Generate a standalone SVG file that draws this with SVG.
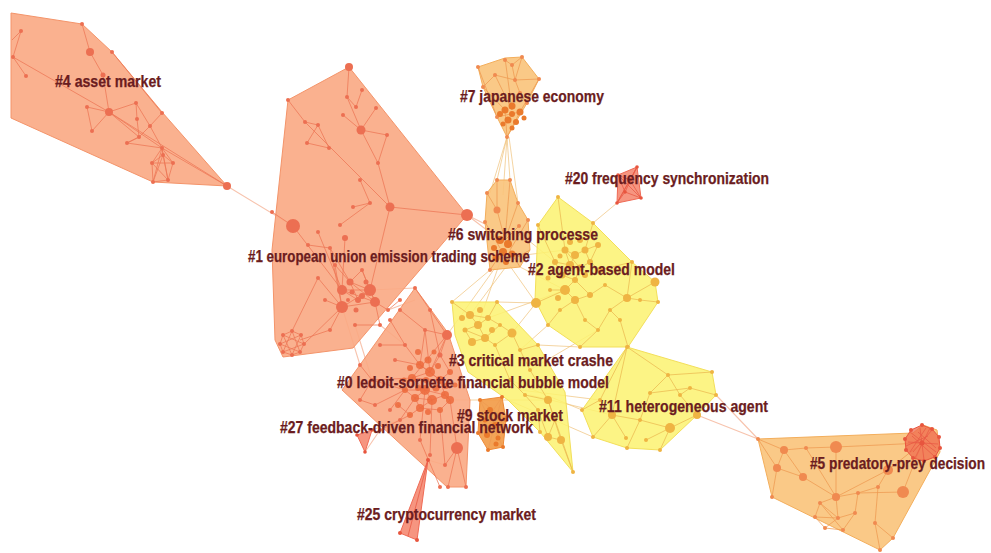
<svg xmlns="http://www.w3.org/2000/svg" width="991" height="553" viewBox="0 0 991 553">
  <style>
    .hull-o { fill: #f9a983; fill-opacity: 0.9; stroke: #f4946a; stroke-width: 1; }
    .hull-y { fill: #fbf270; fill-opacity: 0.85; stroke: #f3df5a; stroke-width: 1; }
    .hull-a { fill: #f9c37a; fill-opacity: 0.9; stroke: #f3ae5c; stroke-width: 1; }
    .hull-r { fill: #f58a72; fill-opacity: 0.9; stroke: #ef6a55; stroke-width: 1; }
    .hull-d { fill: #f29a45; fill-opacity: 0.9; stroke: #ee8a38; stroke-width: 1; }
    .blob { fill: #ef6a4c; fill-opacity: 0.75; stroke: #e8553e; stroke-width: 1; }
    .e-o { fill: none; stroke: #ec7656; stroke-width: 0.9; stroke-opacity: 0.85; }
    .e-y { fill: none; stroke: #eab64e; stroke-width: 0.9; stroke-opacity: 0.8; }
    .e-a { fill: none; stroke: #ee9a52; stroke-width: 0.9; stroke-opacity: 0.85; }
    .e-r { fill: none; stroke: #e95a45; stroke-width: 0.8; }
    .link { fill: none; stroke: #f3a98a; stroke-width: 1.1; stroke-opacity: 0.7; }
    .link-y { fill: none; stroke: #f0c27a; stroke-width: 1; stroke-opacity: 0.7; }
    .n-o circle { fill: #ec6f52; }
    .n-y circle { fill: #efb443; }
    .n-a circle { fill: #f08a50; }
    .n-r circle { fill: #e8553e; }
    .n-d circle { fill: #ea7a2c; }
    .n-dd circle { fill: #ec6a3c; fill-opacity: 0.85; }
    .lbl text { font-family: "Liberation Sans", Arial, sans-serif; font-weight: bold; font-size: 16.5px; fill: #6b1c20; stroke: #6b1c20; stroke-width: 0.25; }
  </style>

  <!-- inter-cluster links -->
  <g id="connectors">
    <path class="link" d="M227,186 L293,226 M467,215 L487,225 M467,215 L500,240 M370,290 L415,288 M388,310 L415,300 M380,325 L405,345 M355,325 L372,380 M342,307 L360,365"/>
    <path class="link-y" d="M507,137 L497,180 M507,137 L510,180 M507,137 L490,193 M507,137 L503,195 M509,137 L518,203"/>
    <path class="link-y" d="M490,270 L452,302 M495,268 L447,335 M505,268 L470,315 M510,266 L536,303 M520,267 L565,290 M500,262 L478,325 M525,255 L565,250 M528,240 L555,262"/>
    <path class="link-y" d="M617,203 L593,223 M536,303 L497,302 M536,303 L512,333 M548,325 L520,350 M565,290 L488,318 M580,347 L538,345 M598,330 L530,370"/>
    <path class="link-y" d="M510,380 L582,410 M520,390 L600,400 M530,395 L612,415 M508,400 L593,437 M450,400 L548,400"/>
    <path class="link" d="M697,415 L758,439 M716,395 L758,439"/>
    <path class="link" d="M428,460 L420,440 M428,460 L445,465 M365,452 L380,430 M372,430 L400,420"/>
  </g>

  <!-- cluster 4 -->
  <g id="cluster-4">
    <polygon class="hull-o" points="11,13 82,24 112,52 162,112 227,186 153,182 11,118"/>
    <path class="e-o" d="M13,57 L109,112 M21,31 L13,57 L26,76 M12,40 L21,31 M82,24 L90,52 L103,75 L109,112 M112,52 L162,113 M109,112 L136,103 L150,126 L162,113 M109,112 L139,137 M109,112 L162,148 M87,107 L92,131 L109,112 M87,107 L109,112 M127,143 L162,148 M137,119 L139,137 L127,143 M136,103 L137,119 M150,126 L162,148 M162,148 L152,163 M162,148 L163,155 M162,148 L173,163 M162,148 L168,180 M162,148 L153,182 M152,163 L163,155 L173,163 L168,180 L153,182 Z M152,163 L173,163 M152,163 L168,180 M163,155 L153,182 M163,155 L168,180 M162,148 L227,186 M109,112 L227,186 M127,143 L139,137 L150,126"/>
    <g class="n-o">
      <circle cx="21" cy="31" r="2"/><circle cx="13" cy="57" r="2"/><circle cx="26" cy="76" r="2"/>
      <circle cx="82" cy="24" r="2"/><circle cx="90" cy="52" r="4"/><circle cx="112" cy="52" r="2"/>
      <circle cx="103" cy="75" r="2.5"/><circle cx="109" cy="112" r="4"/><circle cx="87" cy="107" r="2"/>
      <circle cx="92" cy="131" r="2"/><circle cx="127" cy="143" r="2"/><circle cx="136" cy="103" r="2"/>
      <circle cx="137" cy="119" r="2"/><circle cx="139" cy="137" r="2"/><circle cx="150" cy="126" r="2"/>
      <circle cx="162" cy="113" r="2"/><circle cx="162" cy="148" r="2"/><circle cx="152" cy="163" r="2"/>
      <circle cx="163" cy="155" r="2"/><circle cx="173" cy="163" r="2"/><circle cx="168" cy="180" r="2"/>
      <circle cx="153" cy="182" r="2"/><circle cx="227" cy="186" r="4"/>
    </g>
  </g>

  <!-- cluster 1 -->
  <g id="cluster-1">
    <polygon class="hull-o" points="288,100 349,67 467,215 353,348 283,357 275,340 272,250"/>
    <path class="e-o" d="M349,67 L347,97 L361,130 L378,163 L390,207 M362,90 L356,107 L347,97 M343,115 L361,130 M376,108 L361,130 L387,135 M288,100 L305,122 M305,122 L318,125 L307,143 M307,143 L329,148 L318,125 M305,122 L390,207 M390,207 L467,215 M360,180 L370,203 L353,207 M390,207 L370,290 M370,203 L340,225 M293,226 L342,290 M293,226 L272,212 M318,232 L342,290 L370,290 M308,245 L330,248 L350,282 M345,238 L342,290 M330,248 L342,307 M342,307 L370,290 L375,302 L342,307 M350,282 L375,302 M325,300 L342,307 L318,278 M362,270 L370,290 M335,265 L350,282 M375,302 L388,310 L400,300 M375,302 L380,325 L355,325 M342,307 L330,330 L300,340 M342,307 L304,344 M350,282 L370,290 M358,300 L370,290 M362,270 L375,302 M318,278 L292,331 M387,135 L378,163 M350,282 L358,300 L342,290 M342,290 L375,302 M335,265 L342,307 M362,270 L350,282"/>
    <path class="e-o" d="M292,331 L301,335 L304,344 L300,352 L292,355 L283,352 L280,344 L283,335 Z M292,331 L300,352 M292,331 L283,352 M301,335 L292,355 M301,335 L280,344 M304,344 L283,335 M304,344 L283,352 M300,352 L280,344 M292,355 L283,335"/>
    <g class="n-o">
      <circle cx="349" cy="67" r="4"/><circle cx="288" cy="100" r="2"/><circle cx="305" cy="122" r="2"/>
      <circle cx="318" cy="125" r="2"/><circle cx="307" cy="143" r="2"/><circle cx="329" cy="148" r="2"/>
      <circle cx="347" cy="97" r="2"/><circle cx="343" cy="115" r="2"/><circle cx="362" cy="90" r="2"/>
      <circle cx="356" cy="107" r="2"/><circle cx="361" cy="130" r="4.5"/><circle cx="376" cy="108" r="2"/>
      <circle cx="387" cy="135" r="2"/><circle cx="378" cy="163" r="2"/><circle cx="360" cy="180" r="2"/>
      <circle cx="370" cy="203" r="2"/><circle cx="390" cy="207" r="4.5"/><circle cx="353" cy="207" r="2"/>
      <circle cx="340" cy="225" r="2"/><circle cx="293" cy="226" r="7"/><circle cx="272" cy="212" r="2"/>
      <circle cx="467" cy="215" r="6"/><circle cx="318" cy="232" r="2"/><circle cx="308" cy="245" r="2"/>
      <circle cx="330" cy="248" r="2"/><circle cx="345" cy="238" r="3"/><circle cx="350" cy="282" r="3.5"/>
      <circle cx="342" cy="290" r="5"/><circle cx="370" cy="290" r="6"/><circle cx="375" cy="302" r="5"/>
      <circle cx="342" cy="307" r="6"/><circle cx="358" cy="300" r="3"/><circle cx="325" cy="300" r="2"/>
      <circle cx="318" cy="278" r="2"/><circle cx="362" cy="270" r="2"/><circle cx="335" cy="265" r="2"/>
      <circle cx="388" cy="310" r="2"/><circle cx="400" cy="300" r="2"/><circle cx="380" cy="325" r="2"/>
      <circle cx="355" cy="325" r="2"/><circle cx="330" cy="330" r="2"/>
      <circle cx="352" cy="292" r="2.5"/><circle cx="362" cy="296" r="3"/><circle cx="356" cy="310" r="2.5"/>
      <circle cx="366" cy="282" r="2.5"/><circle cx="348" cy="300" r="2"/>
      <circle cx="292" cy="331" r="2"/><circle cx="301" cy="335" r="2"/><circle cx="304" cy="344" r="2"/>
      <circle cx="300" cy="352" r="2"/><circle cx="292" cy="355" r="2"/><circle cx="283" cy="352" r="2"/>
      <circle cx="280" cy="344" r="2"/><circle cx="283" cy="335" r="2"/>
    </g>
  </g>

  <!-- cluster 0 -->
  <g id="cluster-0">
    <polygon class="hull-o" points="415,288 448,333 470,400 466,487 447,487 342,390"/>
    <path class="e-o" d="M415,288 L430,310 L447,335 M400,310 L425,330 L447,335 M390,320 L405,345 L420,365 M380,345 L405,345 M425,330 L430,372 M440,355 L430,372 M447,335 L440,355 L450,372 M360,365 L372,380 L412,378 M395,360 L420,365 M372,380 L405,390 M420,365 L430,372 L412,378 L425,390 L432,400 L445,395 L440,380 L430,372 M425,390 L415,398 L420,408 L432,400 M440,380 L450,372 M445,395 L450,400 L440,410 M398,405 L410,415 L420,408 M405,390 L415,398 M400,420 L415,398 M390,410 L405,390 M380,430 L410,415 M420,440 L425,390 M430,455 L432,400 M445,465 L440,410 M440,487 L420,440 M448,487 L457,448 L450,400 M466,487 L457,448 M360,400 L372,380 M375,405 L405,390 M360,400 L375,405 M447,335 L412,378 M430,310 L440,355 M457,448 L445,465 M420,365 L440,380 M412,378 L440,380 M425,390 L445,395 M415,398 L432,400 M420,408 L440,410 M405,390 L425,390 M412,378 L405,390 M425,330 L420,365 M447,335 L430,372"/>
    <g class="n-o">
      <circle cx="415" cy="288" r="2"/><circle cx="447" cy="335" r="5"/><circle cx="430" cy="310" r="2"/>
      <circle cx="400" cy="310" r="2"/><circle cx="390" cy="320" r="2"/><circle cx="380" cy="345" r="2"/>
      <circle cx="425" cy="330" r="2"/><circle cx="405" cy="345" r="2"/><circle cx="440" cy="355" r="2.5"/>
      <circle cx="360" cy="365" r="2"/><circle cx="372" cy="380" r="2"/><circle cx="395" cy="360" r="2"/>
      <circle cx="457" cy="448" r="6"/><circle cx="400" cy="420" r="2"/><circle cx="390" cy="410" r="2"/>
      <circle cx="380" cy="430" r="2"/><circle cx="420" cy="440" r="2"/><circle cx="430" cy="455" r="2"/>
      <circle cx="445" cy="465" r="2"/><circle cx="440" cy="487" r="2"/><circle cx="448" cy="487" r="2"/>
      <circle cx="466" cy="487" r="2"/><circle cx="360" cy="400" r="2"/><circle cx="375" cy="405" r="2"/>
    </g>
    <g class="n-dd">
      <circle cx="420" cy="365" r="4"/><circle cx="430" cy="372" r="5"/><circle cx="412" cy="378" r="4"/>
      <circle cx="440" cy="380" r="4"/><circle cx="425" cy="390" r="5"/><circle cx="415" cy="398" r="4"/>
      <circle cx="432" cy="400" r="5"/><circle cx="445" cy="395" r="4"/><circle cx="405" cy="390" r="3"/>
      <circle cx="420" cy="408" r="4"/><circle cx="440" cy="410" r="3"/><circle cx="450" cy="372" r="3"/>
      <circle cx="398" cy="405" r="3"/><circle cx="410" cy="415" r="3"/><circle cx="450" cy="400" r="4"/>
      <circle cx="428" cy="360" r="3.5"/><circle cx="438" cy="366" r="3"/><circle cx="418" cy="388" r="3"/>
      <circle cx="436" cy="388" r="3.5"/><circle cx="426" cy="380" r="3"/><circle cx="446" cy="386" r="3"/>
      <circle cx="410" cy="368" r="3"/><circle cx="428" cy="412" r="3"/><circle cx="404" cy="380" r="2.5"/>
      <circle cx="455" cy="385" r="2.5"/><circle cx="418" cy="352" r="3"/><circle cx="434" cy="352" r="2.5"/>
    </g>
  </g>

  <!-- cluster 27 -->
  <g id="cluster-27">
    <polygon class="hull-r" points="357,435 372,430 365,452"/>
    <g class="n-r"><circle cx="357" cy="435" r="1.8"/><circle cx="372" cy="430" r="1.8"/><circle cx="365" cy="452" r="1.8"/></g>
  </g>

  <!-- cluster 25 -->
  <g id="cluster-25">
    <polygon class="hull-r" points="428,460 400,533 417,540"/>
    <path class="e-r" d="M428,460 L408,536"/>
    <g class="n-r"><circle cx="428" cy="460" r="2"/><circle cx="400" cy="533" r="2"/><circle cx="417" cy="540" r="2"/></g>
  </g>

  <!-- cluster 3 -->
  <g id="cluster-3">
    <polygon class="hull-y" points="452,302 497,302 538,345 565,392 573,472 540,432 508,400 468,372 455,335"/>
    <path class="e-y" d="M452,302 L470,315 L478,325 L465,330 L472,342 L485,338 L478,325 L488,318 L497,302 M470,315 L488,318 L500,325 L512,333 L495,345 L485,338 M512,333 L520,350 L538,345 M495,345 L510,380 L525,395 L548,400 L555,420 L548,437 L561,440 L573,472 M538,410 L548,437 M525,395 L538,410 L540,432 M530,370 L548,400 M520,350 L530,370 M548,400 L561,440 M555,420 L573,472 M465,330 L485,338 M500,325 L485,338"/>
    <g class="n-y">
      <circle cx="452" cy="302" r="2"/><circle cx="497" cy="302" r="2"/><circle cx="470" cy="315" r="4"/>
      <circle cx="478" cy="325" r="4"/><circle cx="465" cy="330" r="2.5"/><circle cx="488" cy="318" r="3"/>
      <circle cx="485" cy="338" r="4"/><circle cx="472" cy="342" r="4"/><circle cx="500" cy="325" r="2"/>
      <circle cx="512" cy="333" r="4.5"/><circle cx="495" cy="345" r="2"/><circle cx="520" cy="350" r="2"/>
      <circle cx="538" cy="345" r="2"/><circle cx="548" cy="400" r="4"/><circle cx="548" cy="437" r="4"/>
      <circle cx="561" cy="440" r="4"/><circle cx="538" cy="410" r="2"/><circle cx="555" cy="420" r="2"/>
      <circle cx="525" cy="395" r="2"/><circle cx="573" cy="472" r="2"/><circle cx="540" cy="432" r="2"/>
      <circle cx="510" cy="380" r="2"/><circle cx="530" cy="370" r="2"/>
      <circle cx="462" cy="318" r="3"/><circle cx="480" cy="310" r="3"/><circle cx="492" cy="330" r="3"/>
    </g>
  </g>

  <!-- cluster 9 -->
  <g id="cluster-9">
    <polygon class="hull-d" points="480,400 502,397 506,420 503,447 488,450 478,433"/>
    <path class="e-a" d="M480,400 L503,447 M502,397 L488,450 M478,433 L506,420 M480,400 L506,420 M502,397 L478,433"/>
    <g class="n-d">
      <circle cx="480" cy="400" r="2"/><circle cx="502" cy="397" r="2"/><circle cx="506" cy="420" r="2"/>
      <circle cx="503" cy="447" r="2"/><circle cx="488" cy="450" r="2"/><circle cx="478" cy="433" r="2"/>
      <circle cx="490" cy="410" r="3"/><circle cx="495" cy="425" r="3"/><circle cx="487" cy="435" r="3"/>
      <circle cx="498" cy="438" r="2.5"/><circle cx="485" cy="420" r="2.5"/><circle cx="496" cy="444" r="2.5"/>
    </g>
  </g>

  <!-- cluster 2 -->
  <g id="cluster-2">
    <polygon class="hull-y" points="558,197 593,223 632,262 655,282 658,302 628,347 580,347 548,325 535,300 538,225"/>
    <path class="e-y" d="M558,197 L565,250 M593,223 L585,250 M538,225 L555,262 M565,250 L575,255 L585,250 L590,262 L580,268 L570,265 L565,250 M570,265 L562,275 L575,280 L580,268 M555,262 L570,265 M598,245 L590,262 L600,270 M575,280 L565,290 L575,300 L590,295 L575,280 M536,303 L565,290 M627,298 L655,282 M632,262 L627,298 L610,310 L598,330 L580,347 M620,320 L628,347 M640,300 L627,298 M605,285 L590,295 M550,290 L565,290 M560,310 L575,300 L585,320 L598,330 M548,325 L560,310 M605,285 L627,298 M600,270 L632,262 M658,302 L640,300 M620,320 L610,310 M585,250 L598,245 M565,250 L580,268 M575,255 L570,265 M555,262 L562,275"/>
    <g class="n-y">
      <circle cx="558" cy="197" r="2"/><circle cx="593" cy="223" r="2"/><circle cx="632" cy="262" r="2"/>
      <circle cx="655" cy="282" r="4.5"/><circle cx="658" cy="302" r="2"/><circle cx="628" cy="347" r="2"/>
      <circle cx="580" cy="347" r="2"/><circle cx="548" cy="325" r="2"/><circle cx="536" cy="303" r="5"/>
      <circle cx="538" cy="225" r="2"/><circle cx="565" cy="250" r="3.5"/><circle cx="575" cy="255" r="4"/>
      <circle cx="585" cy="250" r="3.5"/><circle cx="570" cy="265" r="4"/><circle cx="580" cy="268" r="3.5"/>
      <circle cx="590" cy="262" r="3"/><circle cx="562" cy="275" r="3.5"/><circle cx="575" cy="280" r="3"/>
      <circle cx="555" cy="262" r="3"/><circle cx="598" cy="245" r="3"/><circle cx="600" cy="270" r="3"/>
      <circle cx="565" cy="290" r="5"/><circle cx="575" cy="300" r="4"/><circle cx="590" cy="295" r="3"/>
      <circle cx="627" cy="298" r="4"/><circle cx="610" cy="310" r="2"/><circle cx="598" cy="330" r="2"/>
      <circle cx="620" cy="320" r="2"/><circle cx="640" cy="300" r="2"/><circle cx="605" cy="285" r="2"/>
      <circle cx="550" cy="290" r="2"/><circle cx="560" cy="310" r="2"/><circle cx="585" cy="320" r="2"/>
      <circle cx="570" cy="242" r="3"/><circle cx="580" cy="240" r="3"/><circle cx="560" cy="256" r="2.5"/>
      <circle cx="585" cy="275" r="3"/><circle cx="548" cy="278" r="2.5"/><circle cx="558" cy="298" r="3"/>
    </g>
  </g>

  <!-- cluster 11 -->
  <g id="cluster-11">
    <polygon class="hull-y" points="627,347 712,372 716,395 697,415 660,450 627,448 593,437 582,410"/>
    <path class="e-y" d="M627,347 L668,375 L712,372 M627,347 L612,415 L593,437 M668,375 L680,395 L697,415 M680,395 L690,388 L716,395 M668,375 L650,393 L640,420 L627,448 M640,420 L670,428 L660,450 M670,428 L697,415 M612,415 L640,420 M646,440 L670,428 M582,410 L600,400 L612,415 M626,438 L612,415 M650,393 L690,388 M600,400 L627,347"/>
    <g class="n-y">
      <circle cx="627" cy="347" r="2"/><circle cx="712" cy="372" r="2"/><circle cx="716" cy="395" r="2"/>
      <circle cx="697" cy="415" r="4"/><circle cx="660" cy="450" r="2"/><circle cx="627" cy="448" r="2"/>
      <circle cx="593" cy="437" r="2"/><circle cx="582" cy="410" r="2"/><circle cx="612" cy="415" r="4"/>
      <circle cx="670" cy="428" r="5"/><circle cx="668" cy="375" r="2"/><circle cx="680" cy="395" r="2"/>
      <circle cx="690" cy="388" r="2"/><circle cx="640" cy="420" r="2"/><circle cx="646" cy="440" r="2"/>
      <circle cx="626" cy="438" r="2"/><circle cx="600" cy="400" r="2"/><circle cx="650" cy="393" r="2"/>
    </g>
  </g>

  <!-- cluster 7 -->
  <g id="cluster-7">
    <polygon class="hull-a" points="478,67 505,58 522,57 539,79 527,103 507,137 497,117 483,87"/>
    <path class="e-a" d="M478,67 L497,117 M505,58 L512,110 M522,57 L515,80 L520,93 L527,103 M539,79 L515,80 L495,75 L483,87 M505,60 L512,65 L522,57 M495,75 L512,110 M512,65 L515,80 M505,110 L507,137 L520,112 M539,79 L520,112 M497,117 L520,112 M483,87 L505,110"/>
    <g class="n-a">
      <circle cx="478" cy="67" r="2"/><circle cx="505" cy="60" r="2"/><circle cx="522" cy="57" r="2"/>
      <circle cx="539" cy="79" r="2"/><circle cx="527" cy="103" r="2"/><circle cx="507" cy="137" r="2"/>
      <circle cx="497" cy="117" r="2"/><circle cx="483" cy="87" r="2"/><circle cx="512" cy="65" r="2"/>
      <circle cx="495" cy="75" r="2"/><circle cx="515" cy="80" r="2"/><circle cx="520" cy="93" r="2"/>
    </g>
    <g class="n-d">
      <circle cx="505" cy="110" r="3.5"/><circle cx="512" cy="106" r="3.5"/><circle cx="520" cy="112" r="3.5"/>
      <circle cx="508" cy="120" r="3.5"/><circle cx="516" cy="122" r="3"/><circle cx="500" cy="114" r="3"/>
      <circle cx="512" cy="128" r="2.5"/><circle cx="524" cy="118" r="2.5"/><circle cx="512" cy="114" r="3"/>
      <circle cx="503" cy="124" r="2.5"/>
    </g>
  </g>

  <!-- cluster 6 -->
  <g id="cluster-6">
    <polygon class="hull-a" points="487,193 497,180 510,180 518,203 528,220 530,250 520,267 490,270 485,222"/>
    <path class="e-a" d="M487,193 L497,210 L505,240 M497,180 L497,210 M510,180 L505,240 M518,203 L505,240 M528,220 L510,250 M485,222 L500,248 M519,226 L505,240 M490,270 L500,255 M520,267 L510,250 M530,250 L512,260"/>
    <g class="n-a">
      <circle cx="487" cy="193" r="2"/><circle cx="497" cy="180" r="2"/><circle cx="510" cy="180" r="2"/>
      <circle cx="518" cy="203" r="2"/><circle cx="528" cy="220" r="2"/><circle cx="519" cy="226" r="2"/>
      <circle cx="497" cy="210" r="3.5"/><circle cx="485" cy="222" r="2"/><circle cx="490" cy="270" r="2"/>
    </g>
    <g class="n-d">
      <circle cx="500" cy="240" r="4"/><circle cx="508" cy="244" r="4"/><circle cx="503" cy="252" r="4"/>
      <circle cx="512" cy="254" r="3.5"/><circle cx="496" cy="258" r="3.5"/><circle cx="506" cy="262" r="3"/>
      <circle cx="494" cy="248" r="3"/>
    </g>
  </g>

  <!-- cluster 20 -->
  <g id="cluster-20">
    <polygon class="hull-r" points="617,203 618,175 637,167 641,198"/>
    <path class="e-r" d="M617,203 L637,167 M618,175 L641,198 M617,203 L630,180 L641,198 M618,175 L630,180 L637,167 M625,192 L637,167 M625,192 L641,198 M617,203 L625,192 L618,175"/>
    <g class="n-r">
      <circle cx="617" cy="203" r="1.8"/><circle cx="618" cy="175" r="1.8"/><circle cx="637" cy="167" r="1.8"/>
      <circle cx="641" cy="198" r="1.8"/><circle cx="630" cy="180" r="1.8"/><circle cx="625" cy="192" r="1.8"/>
    </g>
  </g>

  <!-- cluster 5 -->
  <g id="cluster-5">
    <polygon class="hull-a" points="758,439 913,433 923,425 937,430 940,452 893,538 880,550 772,497"/>
    <path class="e-a" d="M758,439 L784,450 L806,448 L836,447 M758,439 L777,468 L803,477 L836,497 M784,450 L777,468 M784,450 L803,477 M772,497 L777,468 M836,447 L836,497 L858,493 L878,487 L888,470 M836,497 L820,503 L815,517 L825,528 L843,530 L855,513 L838,518 L815,517 M820,503 L838,518 L825,528 M820,503 L843,530 M838,518 L836,497 M855,513 L858,493 M888,470 L922,443 M903,492 L922,443 M878,487 L875,523 L893,538 M880,550 L875,523 M836,497 L888,470 M806,448 L836,497 M858,493 L903,492 M836,447 L922,443"/>
    <polygon class="blob" points="922,425 932,429 939,437 940,448 935,457 924,461 913,458 906,450 905,439 911,430"/>
    <path class="e-r" d="M910,432 L936,452 M913,452 L932,430 M908,442 L938,444 M920,428 L924,460 M912,436 L934,456 M915,458 L930,428 M906,446 L928,436 M918,432 L936,448 M910,452 L926,428"/>
    <g class="n-a">
      <circle cx="758" cy="439" r="2"/><circle cx="784" cy="450" r="4"/><circle cx="777" cy="468" r="4"/>
      <circle cx="803" cy="477" r="4"/><circle cx="806" cy="448" r="2"/><circle cx="836" cy="447" r="6"/>
      <circle cx="836" cy="497" r="4"/><circle cx="820" cy="503" r="2"/><circle cx="815" cy="517" r="2"/>
      <circle cx="838" cy="518" r="2"/><circle cx="825" cy="528" r="2"/><circle cx="843" cy="530" r="2"/>
      <circle cx="855" cy="513" r="2"/><circle cx="858" cy="493" r="2"/><circle cx="878" cy="487" r="2"/>
      <circle cx="903" cy="492" r="6"/><circle cx="888" cy="470" r="5"/><circle cx="875" cy="523" r="2"/>
      <circle cx="893" cy="538" r="2"/><circle cx="880" cy="550" r="2"/><circle cx="772" cy="497" r="2"/>
    </g>
    <g class="n-r">
      <circle cx="922" cy="425" r="2"/><circle cx="932" cy="429" r="2"/><circle cx="939" cy="437" r="2"/>
      <circle cx="940" cy="448" r="2"/><circle cx="935" cy="457" r="2"/><circle cx="924" cy="461" r="2"/>
      <circle cx="913" cy="458" r="2"/><circle cx="906" cy="450" r="2"/><circle cx="905" cy="439" r="2"/>
      <circle cx="911" cy="430" r="2"/><circle cx="922" cy="443" r="2.5"/>
    </g>
  </g>

  <!-- cluster labels -->
  <g id="labels" class="lbl">
    <text x="55" y="87" textLength="106" lengthAdjust="spacingAndGlyphs">#4 asset market</text>
    <text x="460" y="102" textLength="144" lengthAdjust="spacingAndGlyphs">#7 japanese economy</text>
    <text x="565" y="184" textLength="204" lengthAdjust="spacingAndGlyphs">#20 frequency synchronization</text>
    <text x="448" y="240" textLength="150" lengthAdjust="spacingAndGlyphs">#6 switching processe</text>
    <text x="248" y="262" textLength="282" lengthAdjust="spacingAndGlyphs">#1 european union emission trading scheme</text>
    <text x="528" y="275" textLength="147" lengthAdjust="spacingAndGlyphs">#2 agent-based model</text>
    <text x="449" y="366" textLength="164" lengthAdjust="spacingAndGlyphs">#3 critical market crashe</text>
    <text x="337" y="388" textLength="272" lengthAdjust="spacingAndGlyphs">#0 ledoit-sornette financial bubble model</text>
    <text x="457" y="421" textLength="106" lengthAdjust="spacingAndGlyphs">#9 stock market</text>
    <text x="280" y="433" textLength="253" lengthAdjust="spacingAndGlyphs">#27 feedback-driven financial network</text>
    <text x="357" y="520" textLength="179" lengthAdjust="spacingAndGlyphs">#25 cryptocurrency market</text>
    <text x="599" y="412" textLength="169" lengthAdjust="spacingAndGlyphs">#11 heterogeneous agent</text>
    <text x="810" y="469" textLength="175" lengthAdjust="spacingAndGlyphs">#5 predatory-prey decision</text>
  </g>
</svg>
